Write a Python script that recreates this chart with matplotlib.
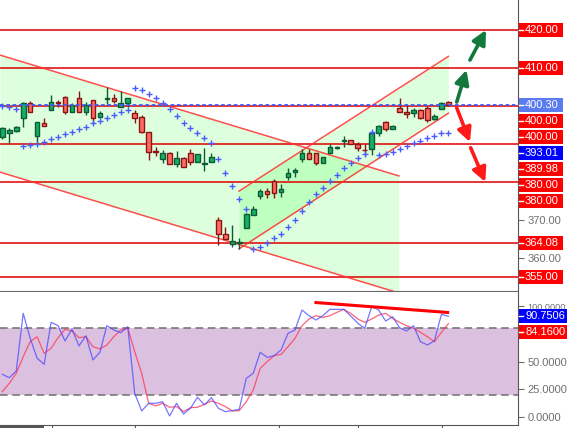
import numpy as np
import matplotlib
matplotlib.use('Agg')
import matplotlib.pyplot as plt
from matplotlib.patches import Rectangle
from matplotlib.lines import Line2D

plt.rcParams['font.family'] = ['Liberation Sans', 'DejaVu Sans']

# ---- candles ----
opens = [391.9, 392.8, 393.5, 396.8, 400.7, 392.2, 395.4, 398.9, 401.1, 402.3,
         398.5, 402.0, 398.5, 401.5, 397.2, 401.8, 402.0, 399.8, 400.9, 398.1,
         397.0, 393.1, 388.2, 386.1, 387.6, 384.7, 386.2, 387.5, 385.2, 384.8,
         385.2, 370.0, 366.3, 363.6, 363.9, 367.8, 371.4, 376.4, 377.6, 380.3,
         377.3, 381.4, 382.6, 386.1, 387.7, 387.7, 385.1, 387.5, 388.9, 390.8,
         391.1, 390.0, 388.5, 388.6, 392.8, 395.7, 393.9, 399.4, 398.3, 398.1,
         398.9, 399.6, 396.5, 399.1, 401.0]
highs = [394.6, 394.3, 394.7, 401.0, 401.3, 395.7, 396.8, 402.9, 401.6, 402.6,
         400.9, 403.9, 401.0, 401.5, 398.6, 404.9, 403.2, 403.9, 402.0, 398.9,
         397.6, 393.1, 389.3, 388.4, 388.0, 388.2, 386.5, 388.7, 387.4, 388.9,
         387.5, 370.9, 368.2, 368.7, 365.2, 371.9, 373.7, 378.1, 378.3, 380.8,
         379.4, 383.6, 383.6, 388.7, 388.7, 387.7, 386.6, 389.9, 389.5, 392.0,
         391.1, 390.6, 389.9, 393.2, 395.0, 396.0, 394.9, 402.0, 400.3, 399.6,
         399.1, 400.0, 397.9, 401.0, 401.3]
lows = [391.2, 390.3, 393.2, 394.6, 398.3, 390.2, 394.8, 398.9, 399.7, 397.8,
        398.5, 398.5, 397.6, 395.4, 396.9, 400.5, 400.7, 399.7, 399.8, 395.4,
        392.8, 385.8, 386.8, 385.1, 384.7, 383.9, 383.9, 384.4, 385.2, 383.0,
        385.2, 363.4, 364.9, 363.0, 362.5, 367.8, 371.4, 375.4, 375.7, 375.7,
        376.1, 380.5, 381.4, 385.2, 386.1, 384.5, 385.1, 387.5, 388.6, 389.1,
        389.9, 388.2, 387.1, 387.1, 392.0, 393.5, 393.9, 398.5, 396.8, 397.2,
        396.6, 395.9, 396.2, 399.1, 400.1]
closes = [394.1, 393.7, 394.5, 400.7, 398.3, 395.7, 394.8, 401.0, 400.8, 398.5,
          400.3, 398.5, 400.3, 396.9, 398.1, 402.0, 401.4, 400.9, 402.0, 396.9,
          393.2, 388.0, 388.0, 387.6, 384.7, 386.2, 383.9, 385.2, 387.4, 385.0,
          386.5, 366.2, 364.9, 364.4, 364.0, 371.6, 372.9, 377.6, 376.8, 377.0,
          378.2, 382.3, 383.2, 387.7, 386.1, 385.1, 386.6, 389.1, 389.1, 391.0,
          389.9, 388.9, 388.3, 392.8, 394.7, 393.9, 394.7, 398.5, 397.8, 398.9,
          396.9, 396.3, 397.4, 400.7, 400.3]
sar = [400.0, 399.8, 399.2, 389.5, 389.7, 390.0, 390.5, 391.2, 391.8, 392.5,
       393.2, 393.9, 394.6, 395.4, 396.0, 396.8, 397.6, 398.3, 398.9, 404.7,
       404.1, 403.1, 402.0, 400.7, 399.1, 397.3, 395.4, 394.1, 392.8, 391.5,
       390.2, 386.0, 382.3, 378.9, 375.4, 372.8, 362.3, 362.8, 363.9, 365.2,
       366.2, 368.1, 369.9, 372.4, 374.7, 376.8, 378.3, 380.2, 381.8, 383.6,
       384.9, 386.2, 387.3, 393.1, 387.0, 387.3, 387.8, 388.6, 389.4, 390.2,
       390.7, 391.5, 392.0, 392.8, 393.01]

# ---- stochastic ----
stoch_k = [38.6, 35.6, 41.6, 93.4, 71.0, 53.0, 47.6, 85.3, 82.3, 68.6,
           79.3, 64.1, 73.3, 51.5, 58.4, 82.3, 78.4, 76.0, 81.4, 21.5,
           5.7, 12.6, 12.6, 14.0, 1.2, 12.6, 3.0, 8.1, 18.0, 11.1,
           17.7, 8.1, 5.1, 6.0, 7.2, 35.0, 39.5, 58.4, 53.9, 55.4,
           60.5, 75.5, 78.4, 96.4, 91.3, 87.4, 91.3, 97.0, 97.0, 97.0,
           91.0, 84.5, 80.0, 99.4, 96.4, 86.5, 90.4, 80.5, 77.5, 82.3,
           67.9, 65.0, 68.8, 92.5, 90.7506]
stoch_d = [23.0, 30.5, 39.5, 54.5, 68.0, 72.4, 57.5, 62.0, 71.5, 79.1,
           77.5, 71.5, 72.4, 63.5, 61.4, 65.0, 72.4, 78.4, 80.0, 59.0,
           39.5, 12.6, 10.2, 12.6, 9.0, 9.6, 5.1, 8.7, 9.0, 11.7,
           14.7, 12.6, 9.6, 5.7, 6.0, 14.0, 24.5, 44.0, 50.0, 55.4,
           56.6, 63.5, 71.0, 82.3, 88.3, 91.3, 89.8, 91.3, 94.3, 97.0,
           93.4, 88.3, 85.3, 88.3, 91.9, 93.4, 88.9, 85.3, 82.3, 80.0,
           76.4, 72.4, 67.9, 76.4, 84.16]

levels = [420.00, 410.00, 400.00, 400.00, 389.98, 380.00, 380.00, 364.08, 355.00]

# channels
desc_x = [-0.33, 56.9]
desc_top = [413.4, 381.6]
desc_bot = [382.6, 350.8]
asc_x = [33.96, 64.0]
asc_top = [377.6, 413.05]
asc_bot = [362.4, 398.1]

arrows_up = [((65.2, 401.05), (66.6, 409.5)), ((67.1, 412.1), (69.4, 420.0))]
arrows_down = [((65.2, 399.5), (67.1, 390.5)), ((67.2, 389.0), (69.3, 380.0))]

stoch_trend_x = [45.0, 63.9]
stoch_trend_y = [103.1, 94.2]
xtick_pos = [7.2, 19.1, 39.7, 51.1, 63.1]

W, H = 567, 428
fig = plt.figure(figsize=(W / 100, H / 100), dpi=100)
ax = fig.add_axes([0, 1 - 291 / H, 518 / W, 291 / H])
ax2 = fig.add_axes([0, 3 / H, 518 / W, 133 / H])

x = np.arange(len(closes))

# channel fills
ax.fill_between(desc_x, desc_bot, desc_top, color='#00ff00', alpha=0.135, lw=0, zorder=1)
ax.fill_between(asc_x, asc_bot, asc_top, color='#00ff00', alpha=0.135, lw=0, zorder=1)

for lv in sorted(set(levels)):
    ax.axhline(lv, color='#e00000', lw=1.1, zorder=2)

for yy in (desc_top, desc_bot):
    ax.plot(desc_x, yy, color='#ff3030', lw=1.1, alpha=0.85, zorder=3)
for yy in (asc_top, asc_bot):
    ax.plot(asc_x, yy, color='#ff3030', lw=1.1, alpha=0.85, zorder=3)

# candles
for i in x:
    o, h, l, c = opens[i], highs[i], lows[i], closes[i]
    up = c >= o
    edge = '#0d5a34' if up else '#8a1414'
    face = '#14b066' if up else '#ff6b63'
    if abs(c - o) < 0.35:
        face = edge
    ax.vlines(i, l, h, color=edge, lw=1, zorder=4)
    ax.add_patch(Rectangle((i - 0.33, min(o, c)), 0.66, max(abs(c - o), 0.25),
                           fc=face, ec=edge, lw=1, zorder=5))

ax.plot(x, sar, '+', color='#4a5cff', ms=4.2, mew=1.0, zorder=6)
ax.axhline(closes[-1], color='#3a5cff', ls=(0, (2, 1.5)), lw=1.3, zorder=7)

for s, e in arrows_up:
    ax.annotate('', xy=e, xytext=s, annotation_clip=False,
                arrowprops=dict(arrowstyle='-|>,head_length=0.7,head_width=0.35',
                                lw=2.6, color='#12783c', shrinkA=0, shrinkB=0,
                                mutation_scale=12))
for s, e in arrows_down:
    ax.annotate('', xy=e, xytext=s, annotation_clip=False,
                arrowprops=dict(arrowstyle='-|>,head_length=0.7,head_width=0.35',
                                lw=2.6, color='#ff1a1a', shrinkA=0, shrinkB=0,
                                mutation_scale=12))

ax.set_xlim(-0.33, 73.99)
ax.set_ylim(351.32, 427.89)
ax.set_xticks([])
ax.yaxis.tick_right()
ax.set_yticks([360, 370])
ax.set_yticklabels(['360.00', '370.00'])
ax.tick_params(axis='y', colors='#707070', labelsize=8, length=4, pad=3)
for sp in ('left', 'top'):
    ax.spines[sp].set_visible(False)
ax.spines['right'].set_color('#555555')
ax.spines['bottom'].set_color('#666666')

# stochastic panel
ax2.axhspan(20, 80, color='#dcc0df', lw=0, zorder=0)
ax2.axhline(80, color='#6e6e6e', ls=(0, (5, 3)), lw=1.1, zorder=1)
ax2.axhline(20, color='#6e6e6e', ls=(0, (5, 3)), lw=1.1, zorder=1)
ax2.plot(x, stoch_d, color='#ff3a5a', lw=0.9, alpha=0.8, zorder=2)
ax2.plot(x, stoch_k, color='#4848ff', lw=0.9, alpha=0.75, zorder=3)
ax2.plot(stoch_trend_x, stoch_trend_y, color='#ff0000', lw=2.2, zorder=4)
ax2.set_xlim(-0.33, 73.99)
ax2.set_ylim(-6.92, 112.58)
ax2.yaxis.tick_right()
ax2.set_yticks([0, 25, 50, 75, 100])
# 75 sits under the %D box, so its label is left empty
ax2.set_yticklabels(['0.0000', '25.0000', '50.0000', '', '100.0000'])
ax2.tick_params(axis='y', colors='#707070', labelsize=8, length=4, pad=3)
ax2.get_yticklabels()[-1].set_fontsize(6.6)
ax2.set_xticks(xtick_pos)
ax2.set_xticklabels([])
ax2.tick_params(axis='x', colors='#555555', length=5)
for sp in ('left', 'top'):
    ax2.spines[sp].set_visible(False)
ax2.spines['right'].set_color('#555555')
ax2.spines['bottom'].set_color('#555555')


def place_labels(axis, items, box_w, gap=16):
    prev = None
    for v, txt, col in sorted(items, key=lambda t: -t[0]):
        ypix = H - axis.transData.transform((0, v))[1]
        if prev is not None and ypix < prev + gap:
            ypix = prev + gap
        prev = ypix
        fig.patches.append(Rectangle((519 / W, 1 - (ypix + 7) / H), box_w / W, 14 / H,
                                     transform=fig.transFigure, fc=col, ec='none', zorder=10))
        fig.lines.append(Line2D([519 / W, 523 / W], [1 - ypix / H] * 2, color='white',
                                lw=1, transform=fig.transFigure, zorder=11))
        fig.text(525 / W, 1 - ypix / H, txt, color='white', fontsize=8,
                 va='center', ha='left', zorder=12)


main_items = [(lv, f'{lv:.2f}', '#ff0000') for lv in levels]
main_items.append((closes[-1], f'{closes[-1]:.2f}', '#5a7cf0'))
main_items.append((sar[-1], f'{sar[-1]:.2f}', '#0000ff'))
place_labels(ax, main_items, 44)

stoch_items = [(stoch_k[-1], f'{stoch_k[-1]:.4f}', '#0000ff'),
               (stoch_d[-1], f'{stoch_d[-1]:.4f}', '#ff0000')]
place_labels(ax2, stoch_items, 50)

fig.patches.append(Rectangle((0, 0), 44 / W, 3 / H, transform=fig.transFigure,
                             fc='#555555', ec='none'))

fig.savefig('out.png', dpi=100)
